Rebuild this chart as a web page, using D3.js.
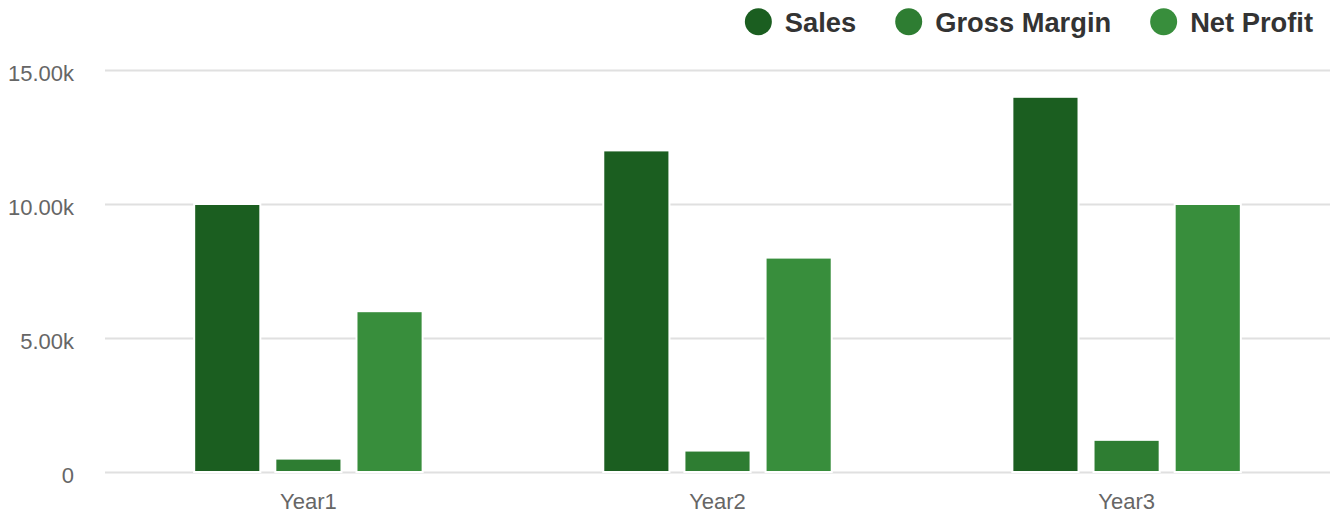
<!DOCTYPE html>
<html>
<head>
<meta charset="utf-8">
<script src="https://cdn.jsdelivr.net/npm/d3@7/dist/d3.min.js"></script>
<style>
  html, body { margin: 0; padding: 0; background: #fff; }
  svg { display: block; font-family: "Liberation Sans", Arial, Helvetica, sans-serif; }
</style>
</head>
<body>
<svg id="chart" width="1334" height="517"></svg>
<script>
const categories = ["Year1", "Year2", "Year3"];
const seriesNames = ["Sales", "Gross Margin", "Net Profit"];
const sales = [10000, 12000, 14000];
const grossMargin = [500, 800, 1200];
const netProfit = [6000, 8000, 10000];
const yTicks = [0, 5000, 10000, 15000];
const colors = ["#1b5e20", "#2e7d32", "#388e3c"];

const seriesValues = [sales, grossMargin, netProfit];
const data = categories.map((c, i) => ({
  category: c,
  values: seriesNames.map((s, j) => ({ series: s, value: seriesValues[j][i] }))
}));

const W = 1334, H = 517;
const margin = { left: 105, right: 4, top: 70, bottom: 45 };
const svg = d3.select("#chart");

const x0 = d3.scaleBand().domain(categories)
  .range([margin.left, W - margin.right])
  .paddingInner(0.4416).paddingOuter(0.218);
const x1 = d3.scaleBand().domain(seriesNames)
  .range([0, x0.bandwidth()])
  .paddingInner(0.185).paddingOuter(0);
const y = d3.scaleLinear().domain([0, 15000]).range([H - margin.bottom, margin.top]);
const color = d3.scaleOrdinal().domain(seriesNames).range(colors);

const fmt = v => v === 0 ? "0" : (v / 1000).toFixed(2) + "k";

// gridlines + y labels
const yAxis = d3.axisLeft(y).tickValues(yTicks).tickFormat(fmt)
  .tickSize(-(W - margin.right - margin.left)).tickPadding(31);
const gy = svg.append("g").attr("transform", `translate(${margin.left},0)`).call(yAxis);
gy.select(".domain").remove();
gy.selectAll(".tick line").attr("stroke", "#e0e0e0").attr("stroke-width", 2);
gy.selectAll(".tick text").attr("fill", "#666").attr("font-size", 22)
  .attr("dy", "0.48em");

// x labels
const xAxis = d3.axisBottom(x0).tickSize(0).tickPadding(21);
const gx = svg.append("g").attr("transform", `translate(0,${H - margin.bottom})`).call(xAxis);
gx.select(".domain").remove();
gx.selectAll(".tick text").attr("fill", "#666").attr("font-size", 22)
  .attr("dy", "0.71em");

// bars
const groups = svg.append("g").selectAll("g").data(data).join("g")
  .attr("transform", d => `translate(${x0(d.category)},0)`);
groups.selectAll("rect").data(d => d.values).join("rect")
  .attr("x", d => x1(d.series))
  .attr("y", d => y(d.value))
  .attr("width", x1.bandwidth())
  .attr("height", d => y(0) - y(d.value))
  .attr("fill", d => color(d.series))
  .attr("stroke", "#fff")
  .attr("stroke-width", 2);

// legend (right aligned)
const legend = svg.append("g");
const fs = 27.3, r = 13.5, textGap = 26.5, itemGap = 39;
const items = legend.selectAll("g").data(seriesNames).join("g");
items.append("circle").attr("r", r).attr("cy", 21.7).attr("fill", d => color(d));
items.append("text").text(d => d).attr("x", textGap).attr("y", 32.3)
  .attr("font-size", fs).attr("font-weight", "bold").attr("fill", "#333");
let widths = [];
items.each(function() { widths.push(d3.select(this).select("text").node().getComputedTextLength()); });
let xEnd = 1313;
const positions = [];
for (let i = seriesNames.length - 1; i >= 0; i--) {
  const cx = xEnd - widths[i] - textGap;
  positions[i] = cx;
  xEnd = cx - r - itemGap;
}
items.attr("transform", (d, i) => `translate(${positions[i]},0)`);
</script>
</body>
</html>
